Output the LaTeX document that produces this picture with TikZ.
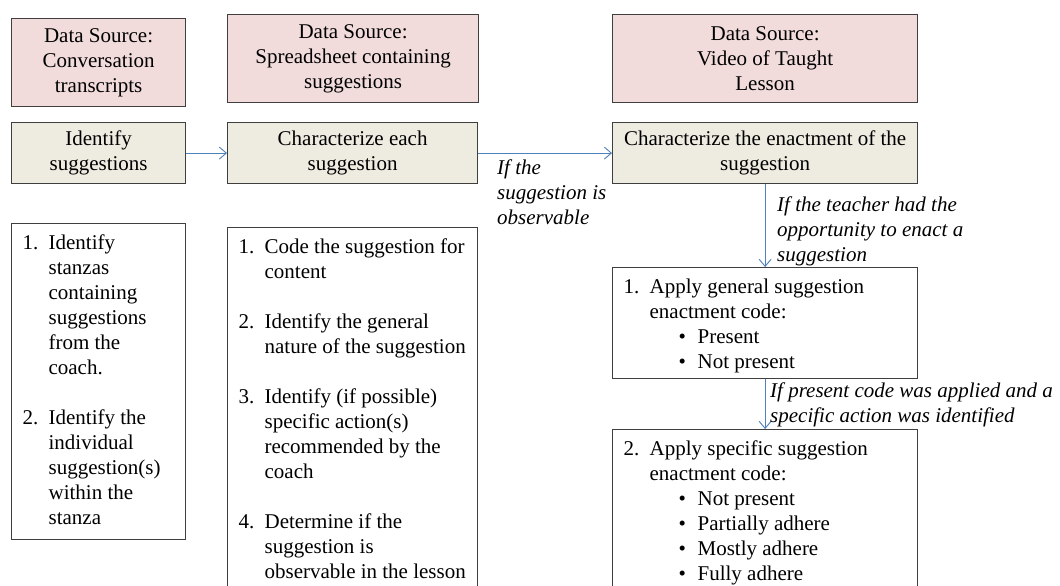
\documentclass[tikz,border=0pt]{standalone}
\usepackage{fontspec}
\setmainfont{Liberation Serif}
\usetikzlibrary{arrows.meta}
\definecolor{pinkfill}{HTML}{F2DCDB}
\definecolor{beigefill}{HTML}{EEECE1}
\definecolor{boxline}{HTML}{3F3F3F}
\definecolor{arrowblue}{HTML}{4F81BD}
\newcommand{\numitem}[2]{\hspace*{11pt}\makebox[26pt][l]{#1}\mbox{#2}}
\newcommand{\contline}[1]{\hspace*{37pt}\mbox{#1}}
\newcommand{\bulitem}[1]{\hspace*{66pt}\makebox[19pt][l]{\textbullet}\mbox{#1}}
\newcommand{\listpar}[3]{\parbox[t][#2][t]{#1}{\vspace*{8.5pt}\strut #3}}
\tikzset{
  basefont/.style={font=\fontsize{21}{25}\selectfont},
  srcbox/.style={draw=boxline, line width=1.2pt, fill=pinkfill, anchor=north west, align=center, inner sep=2pt, basefont},
  stepbox/.style={draw=boxline, line width=1.2pt, fill=beigefill, anchor=north west, align=center, inner sep=2pt, basefont},
  listbox/.style={draw=boxline, line width=1.2pt, fill=white, anchor=north west, inner sep=0pt, basefont},
  lbl/.style={anchor=base west, inner sep=0pt, font=\fontsize{21}{25}\selectfont\itshape},
  arr/.style={draw=arrowblue, line width=0.9pt, -{Straight Barb[length=7pt,width=12pt]}}
}
\begin{document}
\begin{tikzpicture}[x=1pt,y=-1pt]
\useasboundingbox[fill=white] (0,0) rectangle (1060,586);
\clip (0,0) rectangle (1060,586);

% data sources
\node[srcbox, minimum width=174, minimum height=88] (DS1) at (11,18) {Data Source:\\Conversation\\transcripts};
\node[srcbox, minimum width=251, minimum height=88] (DS2) at (227,14) {Data Source:\\Spreadsheet containing\\suggestions};
\node[srcbox, minimum width=305, minimum height=88] (DS3) at (612,14) {Data Source:\\Video of Taught\\Lesson};

% steps
\node[stepbox, minimum width=174, minimum height=61] (I1) at (11,122) {Identify\\suggestions};
\node[stepbox, minimum width=250, minimum height=61] (C2) at (227,122) {Characterize each\\suggestion};
\node[stepbox, minimum width=305, minimum height=61] (C3) at (612,122) {Characterize the enactment of the\\suggestion};

% lists
\node[listbox] (L1) at (11,223) {\listpar{174pt}{316pt}{%
\numitem{1.}{Identify}\\
\contline{stanzas}\\
\contline{containing}\\
\contline{suggestions}\\
\contline{from the}\\
\contline{coach.}\\[25pt]
\numitem{2.}{Identify the}\\
\contline{individual}\\
\contline{suggestion(s)}\\
\contline{within the}\\
\contline{stanza}}};

\node[listbox] (L2) at (227,227) {\listpar{250pt}{380pt}{%
\numitem{1.}{Code the suggestion for}\\
\contline{content}\\[25pt]
\numitem{2.}{Identify the general}\\
\contline{nature of the suggestion}\\[25pt]
\numitem{3.}{Identify (if possible)}\\
\contline{specific action(s)}\\
\contline{recommended by the}\\
\contline{coach}\\[25pt]
\numitem{4.}{Determine if the}\\
\contline{suggestion is}\\
\contline{observable in the lesson}}};

\node[listbox] (R1) at (612,267) {\listpar{305pt}{111pt}{%
\numitem{1.}{Apply general suggestion}\\
\contline{enactment code:}\\
\bulitem{Present}\\
\bulitem{Not present}}};

\node[listbox] (R2) at (612,429) {\listpar{305pt}{190pt}{%
\numitem{2.}{Apply specific suggestion}\\
\contline{enactment code:}\\
\bulitem{Not present}\\
\bulitem{Partially adhere}\\
\bulitem{Mostly adhere}\\
\bulitem{Fully adhere}}};

% connectors
\draw[arr] (I1) -- (C2);
\draw[arr] (C2) -- (C3);
\draw[arr] (C3) -- (R1);
\draw[arr] (R1) -- (R2);

% condition labels
\node[lbl] (lab1) at (497,174) {\parbox[t]{115pt}{\raggedright If the\\suggestion is\\observable}};
\node[lbl] (lab2) at (777,211) {\parbox[t]{250pt}{\raggedright If the teacher had the\\opportunity to enact a\\suggestion}};
\node[lbl] (lab3) at (770,397) {\parbox[t]{300pt}{\raggedright \mbox{If present code was applied and a}\\specific action was identified}};
\end{tikzpicture}
\end{document}
